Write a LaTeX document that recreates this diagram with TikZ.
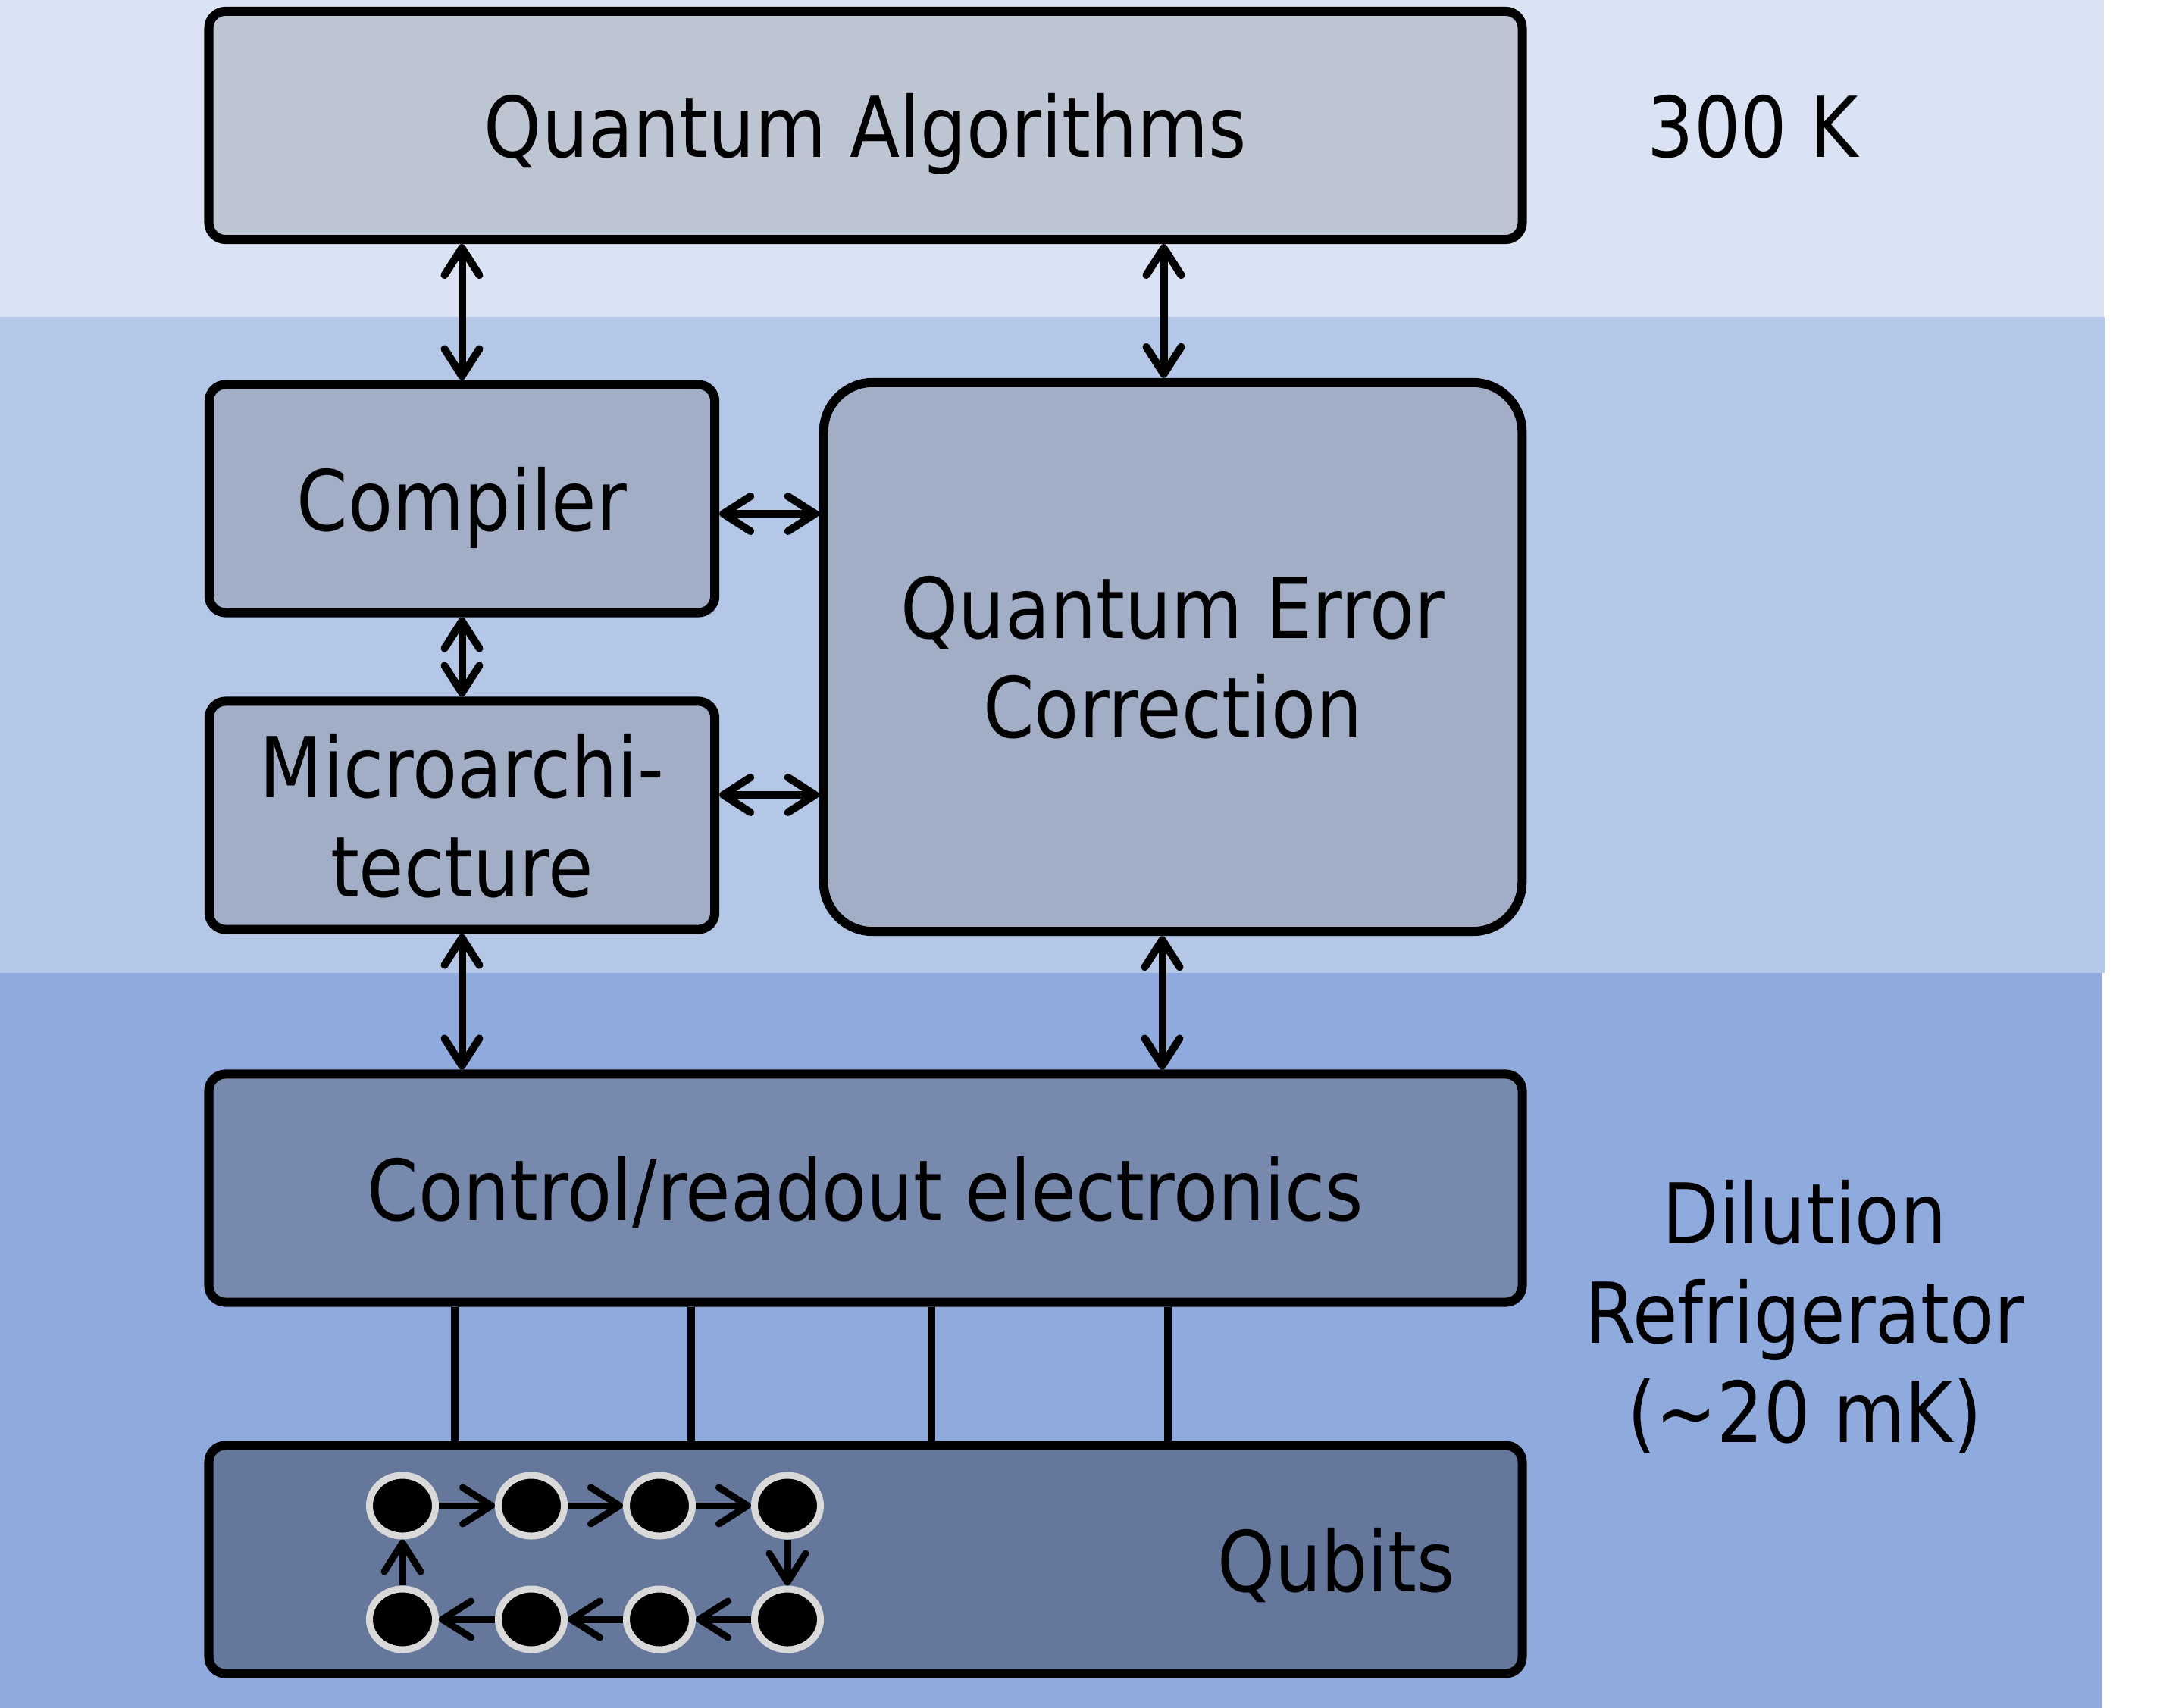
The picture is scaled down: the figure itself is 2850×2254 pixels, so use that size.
\documentclass[tikz,border=0pt]{standalone}
\usepackage{fontspec}
\setmainfont{DejaVu Sans}[FakeStretch=0.873]
\usetikzlibrary{arrows.meta, positioning, shapes.geometric, calc}
\definecolor{bandTop}{HTML}{DAE3F3}
\definecolor{bandMid}{HTML}{B4C7E7}
\definecolor{bandLow}{HTML}{8FAADC}
\definecolor{fillAlg}{HTML}{BEC5D2}
\definecolor{fillMid}{HTML}{A2AEC6}
\definecolor{fillCtl}{HTML}{7789AD}
\definecolor{fillQub}{HTML}{65779B}
\definecolor{ringGray}{HTML}{D9D9D9}
\tikzset{
  barb/.tip={Straight Barb[length=3.6mm, width=4.6mm, round]},
  qbarb/.tip={Straight Barb[length=3.8mm, width=4.8mm, round]},
  arrowB/.style={barb-barb, line width=0.1cm},
  arrowQ/.style={-qbarb, line width=0.09cm},
  wire/.style={line width=0.1cm},
  boxL/.style={rectangle, rounded corners=0.22cm, draw=black, line width=0.12cm,
               inner sep=0pt, align=center, minimum height=3.01cm, text depth=0pt},
  qubit/.style={ellipse, draw=ringGray, fill=black, line width=0.09cm,
                minimum width=0.87cm, minimum height=0.80cm, inner sep=0pt},
  lbl/.style={align=center, inner sep=0pt},
}

\begin{document}
\begin{tikzpicture}[x=0.01cm, y=-0.01cm,
    font=\fontsize{31.5}{37.3}\selectfont]
    \useasboundingbox (0,0) rectangle (2850,2254);
    % temperature bands
    \fill[bandTop] (0,0) rectangle (2776,418);
    \fill[bandMid] (0,418) rectangle (2777,1284);
    \fill[bandLow] (0,1284) rectangle (2774,2254);
    % software stack
    \node[boxL, fill=fillAlg, minimum width=17.32cm] (alg) at (1142,165.5) {Quantum Algorithms};
    \node[boxL, fill=fillMid, minimum width=6.67cm] (comp) at (609.5,658) {Compiler};
    \node[boxL, fill=fillMid, minimum width=6.67cm] (micro) at (609.5,1076) {Microarchi-\\tecture};
    \node[boxL, fill=fillMid, rounded corners=0.65cm, minimum width=9.21cm,
          minimum height=7.24cm] (qec) at (1547.5,867) {Quantum Error\\Correction};
    \node[boxL, fill=fillCtl, minimum width=17.32cm] (ctrl) at (1142,1568) {Control/readout electronics};
    \node[boxL, fill=fillQub, minimum width=17.32cm] (qub) at (1142,2058) {};
    \node[lbl] (qlbl) at (1763,2066) {Qubits};
    \node[lbl] (room) at (2313,167) {300 K};
    \node[lbl] (fridge) at (2381,1738) {Dilution\\Refrigerator\\(\textasciitilde 20 mK)};
    \coordinate (qecTop) at ($(qec.north)+(-12,0)$);
    \coordinate (qecBot) at ($(qec.south)+(-14,0)$);
    % links between layers
    \draw[arrowB] (alg.south -| comp.north) -- (comp.north);
    \draw[arrowB] (alg.south -| qecTop) -- (qecTop);
    \draw[arrowB] (comp) -- (micro);
    \draw[arrowB] ([yshift=-0.2cm]comp.east) -- ([yshift=-0.2cm]comp.east -| qec.west);
    \draw[arrowB] ([yshift=0.27cm]micro.east) -- ([yshift=0.27cm]micro.east -| qec.west);
    \draw[arrowB] (micro.south) -- (ctrl.north -| micro.south);
    \draw[arrowB] (qecBot) -- (ctrl.north -| qecBot);
    \foreach \x in {600,912,1229,1541}
      \draw[wire] (\x,0 |- ctrl.south) -- (\x,0 |- qub.north);
    % qubit ring
    \foreach \i/\x in {1/531,2/701,3/870,4/1039}
      \node[qubit] (q\i) at (\x,1987) {};
    \foreach \i/\x in {5/1039,6/870,7/701,8/531}
      \node[qubit] (q\i) at (\x,2137) {};
    \foreach \a/\b in {1/2,2/3,3/4,4/5,5/6,6/7,7/8,8/1}
      \draw[arrowQ] (q\a) -- (q\b);
\end{tikzpicture}
\end{document}
